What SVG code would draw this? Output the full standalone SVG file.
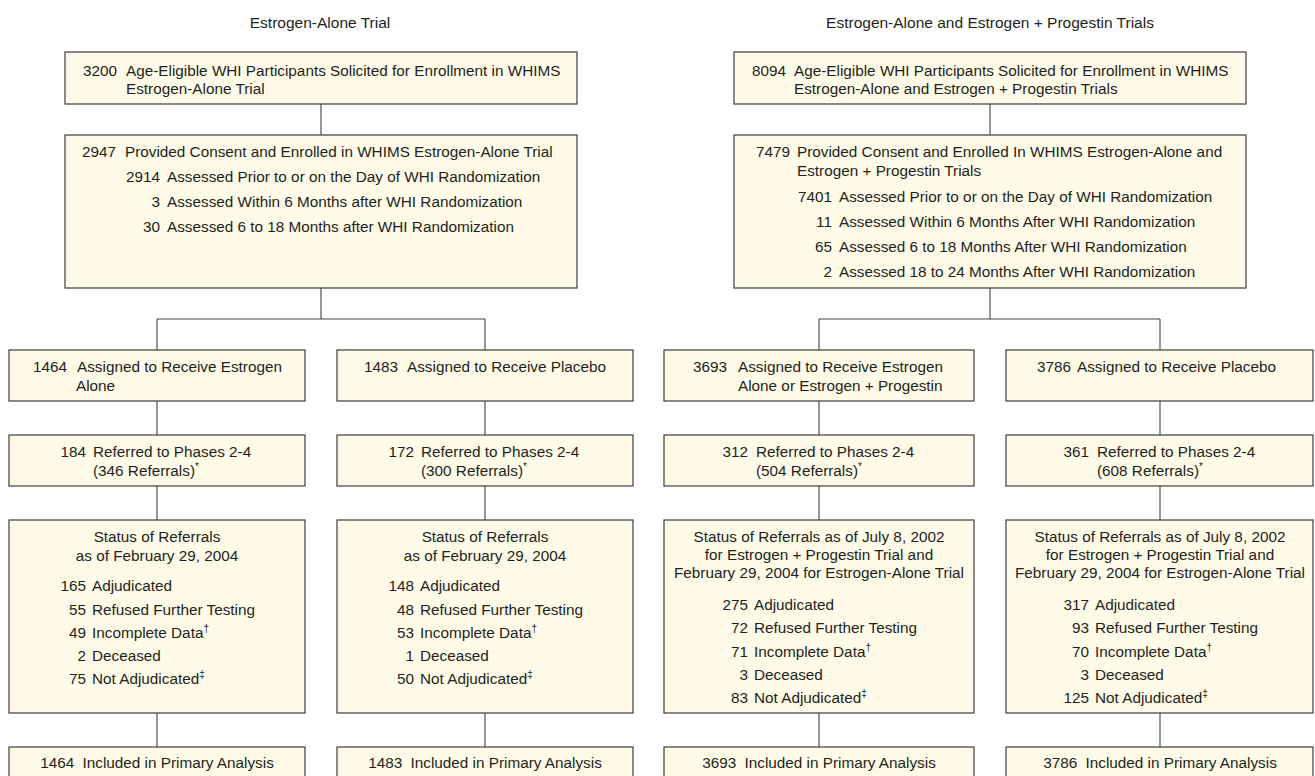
<svg xmlns="http://www.w3.org/2000/svg" width="1315" height="776" viewBox="0 0 1315 776">
<style>
text{font-family:"Liberation Sans",Arial,Helvetica,sans-serif;font-size:15.3px;fill:#231f20}
.box{fill:#fffbe8;stroke:#3c3c3c;stroke-width:1.2}
.con{fill:none;stroke:#444;stroke-width:1.1}
.e{text-anchor:end}
.m{text-anchor:middle}
.t{font-size:15.5px}
.sup{font-size:10px}
</style>
<rect width="1315" height="776" fill="#ffffff"/>
<text class="m t" x="320" y="28">Estrogen-Alone Trial</text>
<text class="m t" x="990" y="28">Estrogen-Alone and Estrogen + Progestin Trials</text>

<g id="connectors">
<path class="con" d="M321 104V135M321 288V319M157 319H485M157 319V350M485 319V350M157 401V435M485 401V435M157 486V520M485 486V520M157 713V747M485 713V747"/>
<path class="con" d="M990 104V135M990 288V319M819 319H1160M819 319V350M1160 319V350M819 401V435M1160 401V435M819 486V520M1160 486V520M819 713V747M1160 713V747"/>
</g>

<g id="L-solicited">
<rect class="box" x="65" y="52" width="512" height="52"/>
<text class="e" x="117" y="76">3200</text>
<text x="126" y="76">Age-Eligible WHI Participants Solicited for Enrollment in WHIMS</text>
<text x="126" y="94">Estrogen-Alone Trial</text>
</g>
<g id="L-enrolled">
<rect class="box" x="65" y="135" width="512" height="153"/>
<text class="e" x="116" y="157">2947</text>
<text x="125" y="157">Provided Consent and Enrolled in WHIMS Estrogen-Alone Trial</text>
<text class="e" x="160" y="182">2914</text>
<text x="167" y="182">Assessed Prior to or on the Day of WHI Randomization</text>
<text class="e" x="160" y="207">3</text>
<text x="167" y="207">Assessed Within 6 Months after WHI Randomization</text>
<text class="e" x="160" y="232">30</text>
<text x="167" y="232">Assessed 6 to 18 Months after WHI Randomization</text>
</g>
<g id="L1-assigned">
<rect class="box" x="9" y="350" width="296" height="51"/>
<text class="e" x="67" y="372">1464</text>
<text x="77" y="372">Assigned to Receive Estrogen</text>
<text x="76" y="391">Alone</text>
</g>
<g id="L2-assigned">
<rect class="box" x="337" y="350" width="296" height="51"/>
<text class="e" x="398" y="372">1483</text>
<text x="407" y="372">Assigned to Receive Placebo</text>
</g>
<g id="L1-referred">
<rect class="box" x="9" y="435" width="296" height="51"/>
<text class="e" x="86" y="457">184</text>
<text x="93" y="457">Referred to Phases 2-4</text>
<text x="93" y="476">(346 Referrals)<tspan class="sup" dy="-6">*</tspan></text>
</g>
<g id="L2-referred">
<rect class="box" x="337" y="435" width="296" height="51"/>
<text class="e" x="414" y="457">172</text>
<text x="421" y="457">Referred to Phases 2-4</text>
<text x="421" y="476">(300 Referrals)<tspan class="sup" dy="-6">*</tspan></text>
</g>
<g id="L1-status">
<rect class="box" x="9" y="520" width="296" height="193"/>
<text class="m" x="157" y="542">Status of Referrals</text>
<text class="m" x="157" y="561">as of February 29, 2004</text>
<text class="e" x="86" y="591">165</text><text x="92" y="591">Adjudicated</text>
<text class="e" x="86" y="615">55</text><text x="92" y="615">Refused Further Testing</text>
<text class="e" x="86" y="638">49</text><text x="92" y="638">Incomplete Data<tspan class="sup" dy="-6">†</tspan></text>
<text class="e" x="86" y="661">2</text><text x="92" y="661">Deceased</text>
<text class="e" x="86" y="684">75</text><text x="92" y="684">Not Adjudicated<tspan class="sup" dy="-6">‡</tspan></text>
</g>
<g id="L2-status">
<rect class="box" x="337" y="520" width="296" height="193"/>
<text class="m" x="485" y="542">Status of Referrals</text>
<text class="m" x="485" y="561">as of February 29, 2004</text>
<text class="e" x="414" y="591">148</text><text x="420" y="591">Adjudicated</text>
<text class="e" x="414" y="615">48</text><text x="420" y="615">Refused Further Testing</text>
<text class="e" x="414" y="638">53</text><text x="420" y="638">Incomplete Data<tspan class="sup" dy="-6">†</tspan></text>
<text class="e" x="414" y="661">1</text><text x="420" y="661">Deceased</text>
<text class="e" x="414" y="684">50</text><text x="420" y="684">Not Adjudicated<tspan class="sup" dy="-6">‡</tspan></text>
</g>
<g id="L1-included">
<rect class="box" x="9" y="747" width="296" height="45"/>
<text class="m" x="157" y="768">1464<tspan dx="4"> Included in Primary Analysis</tspan></text>
</g>
<g id="L2-included">
<rect class="box" x="337" y="747" width="296" height="45"/>
<text class="m" x="485" y="768">1483<tspan dx="4"> Included in Primary Analysis</tspan></text>
</g>

<g id="R-solicited">
<rect class="box" x="734" y="52" width="512" height="52"/>
<text class="e" x="786" y="76">8094</text>
<text x="794" y="76">Age-Eligible WHI Participants Solicited for Enrollment in WHIMS</text>
<text x="794" y="94">Estrogen-Alone and Estrogen + Progestin Trials</text>
</g>
<g id="R-enrolled">
<rect class="box" x="734" y="135" width="512" height="153"/>
<text class="e" x="790" y="157">7479</text>
<text x="797" y="157">Provided Consent and Enrolled In WHIMS Estrogen-Alone and</text>
<text x="797" y="176">Estrogen + Progestin Trials</text>
<text class="e" x="832" y="202">7401</text>
<text x="839" y="202">Assessed Prior to or on the Day of WHI Randomization</text>
<text class="e" x="832" y="227">11</text>
<text x="839" y="227">Assessed Within 6 Months After WHI Randomization</text>
<text class="e" x="832" y="252">65</text>
<text x="839" y="252">Assessed 6 to 18 Months After WHI Randomization</text>
<text class="e" x="832" y="277">2</text>
<text x="839" y="277">Assessed 18 to 24 Months After WHI Randomization</text>
</g>
<g id="R1-assigned">
<rect class="box" x="664" y="350" width="310" height="51"/>
<text class="e" x="727" y="372">3693</text>
<text x="738" y="372">Assigned to Receive Estrogen</text>
<text x="738" y="391">Alone or Estrogen + Progestin</text>
</g>
<g id="R2-assigned">
<rect class="box" x="1006" y="350" width="307" height="51"/>
<text class="e" x="1071" y="372">3786</text>
<text x="1077" y="372">Assigned to Receive Placebo</text>
</g>
<g id="R1-referred">
<rect class="box" x="664" y="435" width="310" height="51"/>
<text class="e" x="748" y="457">312</text>
<text x="756" y="457">Referred to Phases 2-4</text>
<text x="756" y="476">(504 Referrals)<tspan class="sup" dy="-6">*</tspan></text>
</g>
<g id="R2-referred">
<rect class="box" x="1006" y="435" width="307" height="51"/>
<text class="e" x="1089" y="457">361</text>
<text x="1097" y="457">Referred to Phases 2-4</text>
<text x="1097" y="476">(608 Referrals)<tspan class="sup" dy="-6">*</tspan></text>
</g>
<g id="R1-status">
<rect class="box" x="664" y="520" width="310" height="193"/>
<text class="m" x="819" y="542">Status of Referrals as of July 8, 2002</text>
<text class="m" x="819" y="560">for Estrogen + Progestin Trial and</text>
<text class="m" x="819" y="578">February 29, 2004 for Estrogen-Alone Trial</text>
<text class="e" x="748" y="610">275</text><text x="754" y="610">Adjudicated</text>
<text class="e" x="748" y="633">72</text><text x="754" y="633">Refused Further Testing</text>
<text class="e" x="748" y="657">71</text><text x="754" y="657">Incomplete Data<tspan class="sup" dy="-6">†</tspan></text>
<text class="e" x="748" y="680">3</text><text x="754" y="680">Deceased</text>
<text class="e" x="748" y="703">83</text><text x="754" y="703">Not Adjudicated<tspan class="sup" dy="-6">‡</tspan></text>
</g>
<g id="R2-status">
<rect class="box" x="1006" y="520" width="307" height="193"/>
<text class="m" x="1160" y="542">Status of Referrals as of July 8, 2002</text>
<text class="m" x="1160" y="560">for Estrogen + Progestin Trial and</text>
<text class="m" x="1160" y="578">February 29, 2004 for Estrogen-Alone Trial</text>
<text class="e" x="1089" y="610">317</text><text x="1095" y="610">Adjudicated</text>
<text class="e" x="1089" y="633">93</text><text x="1095" y="633">Refused Further Testing</text>
<text class="e" x="1089" y="657">70</text><text x="1095" y="657">Incomplete Data<tspan class="sup" dy="-6">†</tspan></text>
<text class="e" x="1089" y="680">3</text><text x="1095" y="680">Deceased</text>
<text class="e" x="1089" y="703">125</text><text x="1095" y="703">Not Adjudicated<tspan class="sup" dy="-6">‡</tspan></text>
</g>
<g id="R1-included">
<rect class="box" x="664" y="747" width="310" height="45"/>
<text class="m" x="819" y="768">3693<tspan dx="4"> Included in Primary Analysis</tspan></text>
</g>
<g id="R2-included">
<rect class="box" x="1006" y="747" width="307" height="45"/>
<text class="m" x="1160" y="768">3786<tspan dx="4"> Included in Primary Analysis</tspan></text>
</g>
</svg>
